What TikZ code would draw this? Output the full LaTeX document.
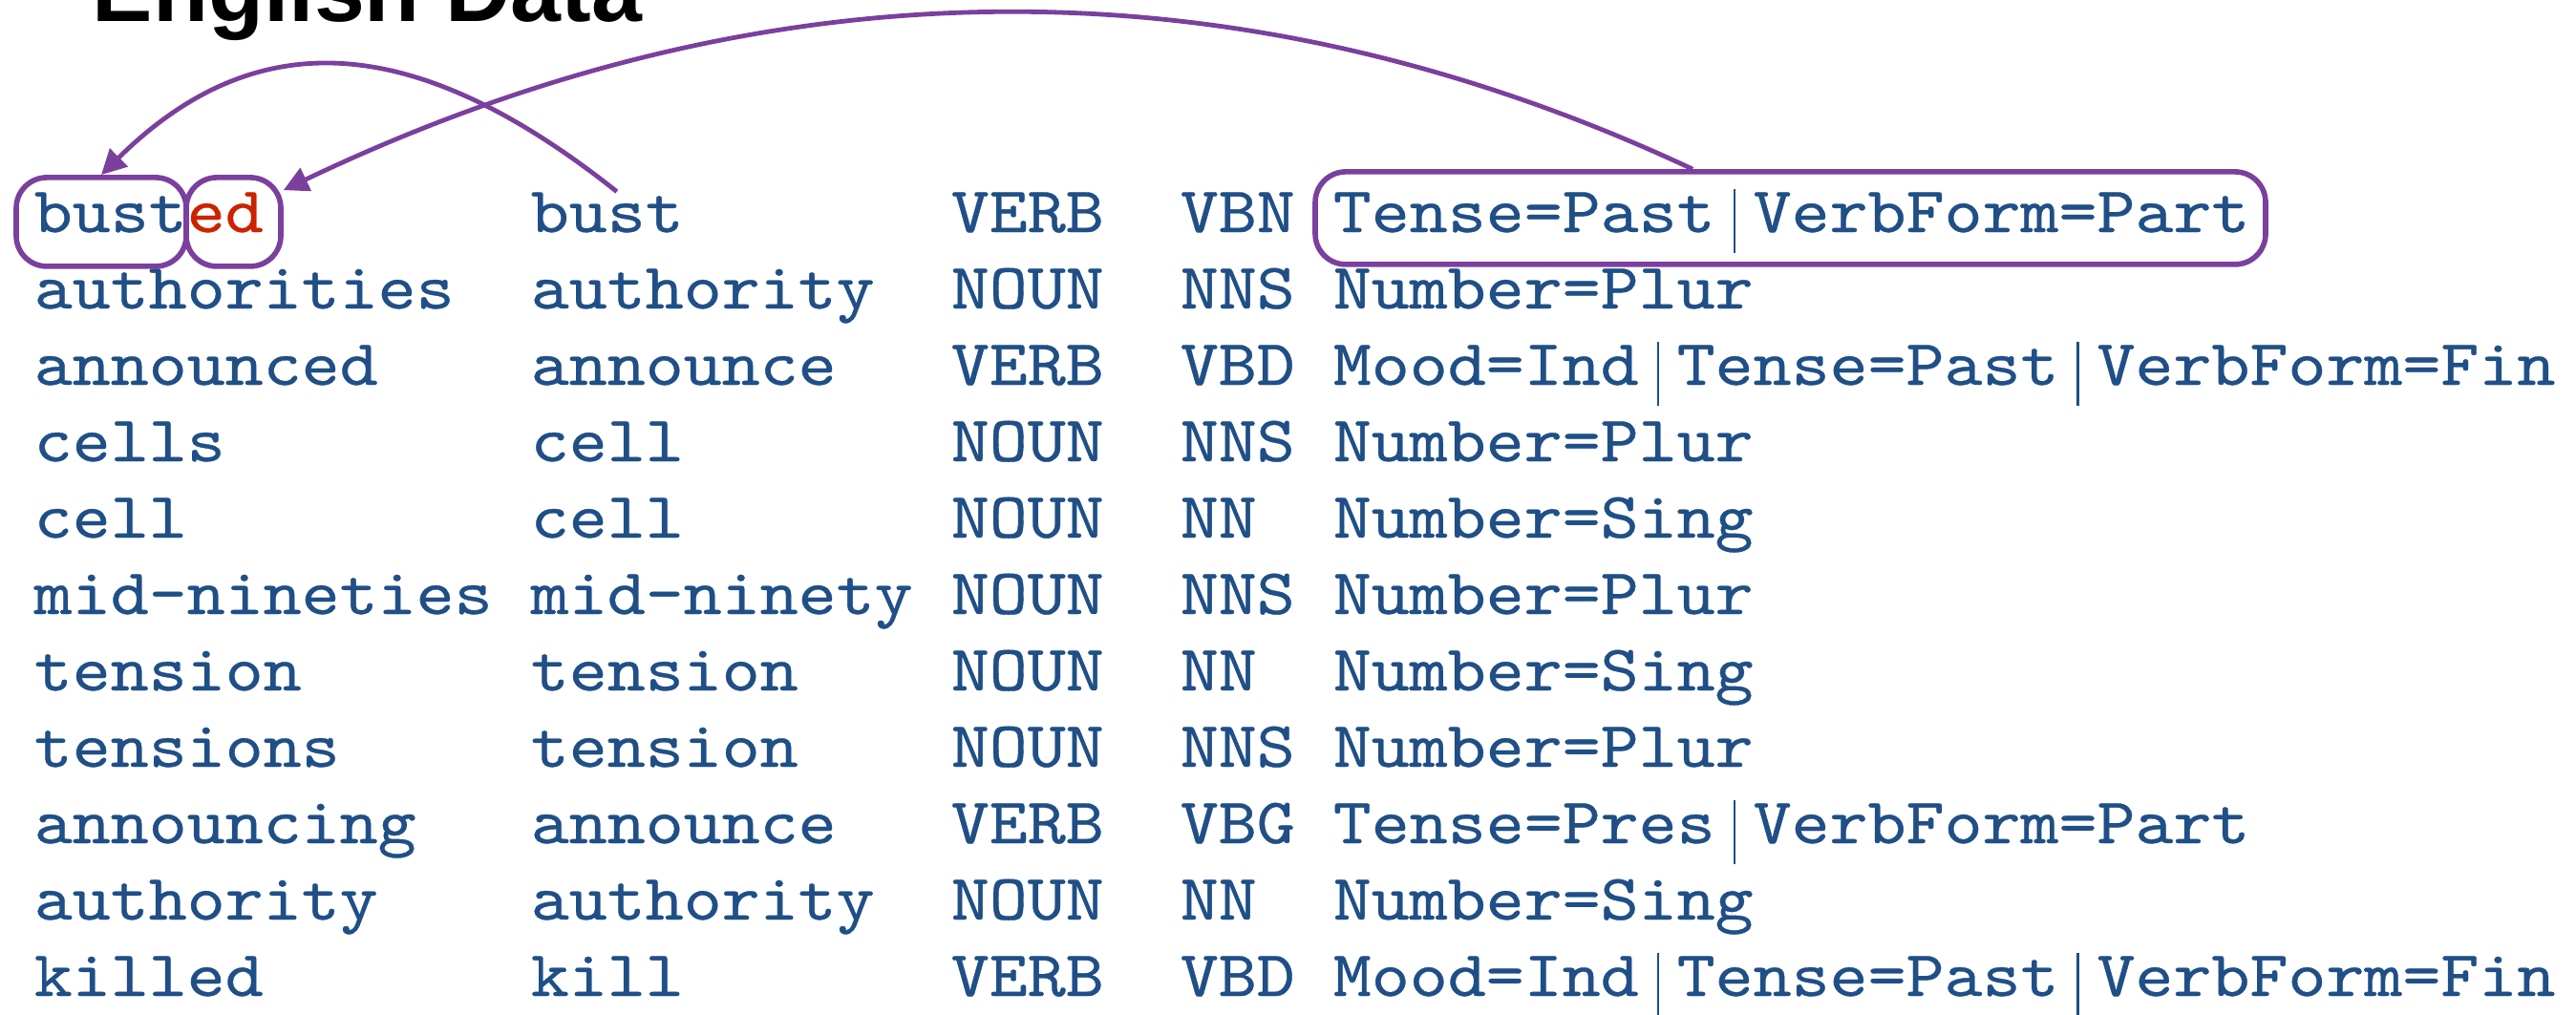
\documentclass[tikz,border=0pt]{standalone}
\usepackage{fontspec}
\usepackage{xcolor}
\usepackage{tikz}
\usetikzlibrary{arrows.meta}

\newfontfamily\cellfont{lmmono10-regular.otf}[FakeStretch=1.12, FakeBold=0.5]
\newfontfamily\headfont{Liberation Sans}

\definecolor{tokblue}{RGB}{31,79,134}
\definecolor{sfxred}{RGB}{204,34,0}
\definecolor{hlpurple}{RGB}{123,63,158}

\newcommand{\featsep}{\makebox[10pt]{\rule[-5.5pt]{0.55pt}{16.75pt}}}

\begin{document}
\begin{tikzpicture}[
    x=1pt, y=1pt,
    cell/.style={anchor=base west, inner sep=0pt, text=tokblue, font=\cellfont\fontsize{17}{20}\selectfont},
    suffix/.style={cell, text=sfxred},
    title/.style={anchor=base west, inner sep=0pt, font=\headfont\bfseries\fontsize{23.75}{28}\selectfont},
    hl/.style={draw=hlpurple, line width=1.4pt, rounded corners=8pt, inner sep=0pt},
    link/.style={draw=hlpurple, line width=1.2pt, -{Triangle[length=6.5pt, width=6.5pt]}},
]
\useasboundingbox (0,0) rectangle (674.25,-265.5);

\node[title] (head) at (24,-5.5) {English Data};

% row 1
\node[cell] (w1) at (8.75,-60.75) {bust};
\node[suffix] (sfx1) at (48.75,-60.75) {ed};
\node[cell] (l1) at (138.75,-60.75) {bust};
\node[cell] (u1) at (248.75,-60.75) {VERB};
\node[cell] (x1) at (308.75,-60.75) {VBN};
\node[cell] (f1) at (348.75,-60.75) {Tense=Past\featsep VerbForm=Part};
% row 2
\node[cell] (w2) at (8.75,-80.75) {authorities};
\node[cell] (l2) at (138.75,-80.75) {authority};
\node[cell] (u2) at (248.75,-80.75) {NOUN};
\node[cell] (x2) at (308.75,-80.75) {NNS};
\node[cell] (f2) at (348.75,-80.75) {Number=Plur};
% row 3
\node[cell] (w3) at (8.75,-100.75) {announced};
\node[cell] (l3) at (138.75,-100.75) {announce};
\node[cell] (u3) at (248.75,-100.75) {VERB};
\node[cell] (x3) at (308.75,-100.75) {VBD};
\node[cell] (f3) at (348.75,-100.75) {Mood=Ind\featsep Tense=Past\featsep VerbForm=Fin};
% row 4
\node[cell] (w4) at (8.75,-120.75) {cells};
\node[cell] (l4) at (138.75,-120.75) {cell};
\node[cell] (u4) at (248.75,-120.75) {NOUN};
\node[cell] (x4) at (308.75,-120.75) {NNS};
\node[cell] (f4) at (348.75,-120.75) {Number=Plur};
% row 5
\node[cell] (w5) at (8.75,-140.75) {cell};
\node[cell] (l5) at (138.75,-140.75) {cell};
\node[cell] (u5) at (248.75,-140.75) {NOUN};
\node[cell] (x5) at (308.75,-140.75) {NN};
\node[cell] (f5) at (348.75,-140.75) {Number=Sing};
% row 6
\node[cell] (w6) at (8.75,-160.75) {mid-nineties};
\node[cell] (l6) at (138.75,-160.75) {mid-ninety};
\node[cell] (u6) at (248.75,-160.75) {NOUN};
\node[cell] (x6) at (308.75,-160.75) {NNS};
\node[cell] (f6) at (348.75,-160.75) {Number=Plur};
% row 7
\node[cell] (w7) at (8.75,-180.75) {tension};
\node[cell] (l7) at (138.75,-180.75) {tension};
\node[cell] (u7) at (248.75,-180.75) {NOUN};
\node[cell] (x7) at (308.75,-180.75) {NN};
\node[cell] (f7) at (348.75,-180.75) {Number=Sing};
% row 8
\node[cell] (w8) at (8.75,-200.75) {tensions};
\node[cell] (l8) at (138.75,-200.75) {tension};
\node[cell] (u8) at (248.75,-200.75) {NOUN};
\node[cell] (x8) at (308.75,-200.75) {NNS};
\node[cell] (f8) at (348.75,-200.75) {Number=Plur};
% row 9
\node[cell] (w9) at (8.75,-220.75) {announcing};
\node[cell] (l9) at (138.75,-220.75) {announce};
\node[cell] (u9) at (248.75,-220.75) {VERB};
\node[cell] (x9) at (308.75,-220.75) {VBG};
\node[cell] (f9) at (348.75,-220.75) {Tense=Pres\featsep VerbForm=Part};
% row 10
\node[cell] (w10) at (8.75,-240.75) {authority};
\node[cell] (l10) at (138.75,-240.75) {authority};
\node[cell] (u10) at (248.75,-240.75) {NOUN};
\node[cell] (x10) at (308.75,-240.75) {NN};
\node[cell] (f10) at (348.75,-240.75) {Number=Sing};
% row 11
\node[cell] (w11) at (8.75,-260.75) {killed};
\node[cell] (l11) at (138.75,-260.75) {kill};
\node[cell] (u11) at (248.75,-260.75) {VERB};
\node[cell] (x11) at (308.75,-260.75) {VBD};
\node[cell] (f11) at (348.75,-260.75) {Mood=Ind\featsep Tense=Past\featsep VerbForm=Fin};

% highlight boxes
\node[hl, minimum width=44.5pt, minimum height=23.25pt] (stembox) at (26.5,-58.1) {};
\node[hl, minimum width=24.75pt, minimum height=23.25pt] (edbox) at (61.125,-58.1) {};
\node[hl, minimum width=248.75pt, minimum height=24.25pt] (featbox) at (468.625,-57.1) {};

\draw[link] ([xshift=2.5pt]l1.north) .. controls (107,-6.85) and (66,-6.85) .. (stembox.north);
\draw[link] ([xshift=-25.6pt]featbox.north) .. controls (325,11) and (202,11.3) .. ([yshift=-4pt]edbox.north east);

\end{tikzpicture}
\end{document}
